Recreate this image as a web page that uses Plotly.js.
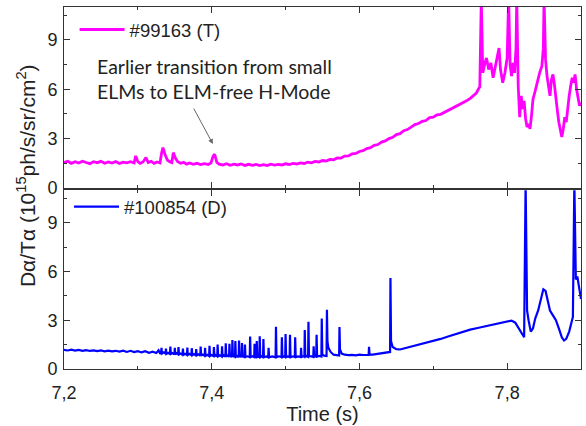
<!DOCTYPE html>
<html>
<head>
<meta charset="utf-8">
<script src="https://cdn.plot.ly/plotly-3.0.1.min.js"></script>
<style>html,body{margin:0;padding:0;background:#fff}#chart{width:586px;height:426px}</style>
</head>
<body>
<div id="chart"></div>
<script>
// Shot #99163 (T) – time (s) and Dα/Tα signal
const timeT = [7.200,7.205,7.210,7.215,7.220,7.225,7.230,7.235,7.240,7.245,7.250,7.255,7.260,7.265,7.270,7.275,7.280,7.285,7.290,7.295,7.297,7.300,7.303,7.307,7.311,7.314,7.318,7.322,7.326,7.330,7.332,7.334,7.337,7.340,7.343,7.346,7.348,7.351,7.354,7.358,7.362,7.366,7.370,7.375,7.380,7.385,7.390,7.395,7.399,7.402,7.404,7.407,7.410,7.415,7.420,7.425,7.430,7.435,7.440,7.445,7.450,7.455,7.460,7.465,7.470,7.475,7.480,7.485,7.490,7.495,7.500,7.505,7.510,7.515,7.520,7.525,7.530,7.535,7.540,7.545,7.550,7.555,7.560,7.565,7.570,7.575,7.580,7.585,7.590,7.595,7.600,7.605,7.610,7.615,7.620,7.625,7.630,7.635,7.640,7.645,7.650,7.655,7.660,7.665,7.670,7.675,7.680,7.685,7.690,7.695,7.700,7.705,7.710,7.715,7.720,7.725,7.730,7.735,7.740,7.745,7.750,7.755,7.758,7.761,7.763,7.765,7.767,7.770,7.772,7.775,7.778,7.781,7.784,7.787,7.789,7.791,7.794,7.797,7.800,7.802,7.804,7.806,7.808,7.810,7.812,7.813,7.815,7.817,7.819,7.821,7.823,7.825,7.827,7.829,7.831,7.833,7.835,7.838,7.841,7.844,7.847,7.849,7.850,7.852,7.854,7.856,7.858,7.860,7.862,7.864,7.866,7.868,7.870,7.872,7.874,7.876,7.878,7.880,7.882,7.884,7.886,7.888,7.890,7.892,7.894,7.896,7.898,7.900];
const signalT = [1.55,1.62,1.50,1.60,1.52,1.63,1.55,1.48,1.60,1.54,1.62,1.50,1.58,1.52,1.61,1.49,1.57,1.53,1.60,1.52,1.95,1.60,1.50,1.58,1.85,1.55,1.62,1.50,1.58,1.52,2.10,2.45,2.00,1.70,1.60,1.55,2.15,1.80,1.60,1.50,1.56,1.45,1.52,1.44,1.50,1.42,1.48,1.43,1.52,1.95,2.05,1.55,1.45,1.40,1.48,1.38,1.45,1.40,1.46,1.37,1.44,1.38,1.43,1.36,1.42,1.37,1.45,1.39,1.44,1.40,1.47,1.43,1.50,1.46,1.53,1.49,1.57,1.53,1.62,1.58,1.67,1.64,1.74,1.72,1.83,1.82,1.94,1.95,2.07,2.10,2.22,2.27,2.40,2.45,2.59,2.64,2.79,2.86,3.00,3.08,3.25,3.30,3.48,3.55,3.70,3.85,3.92,4.05,4.10,4.28,4.30,4.45,4.48,4.60,4.68,4.80,4.92,5.05,5.15,5.30,5.45,5.62,5.75,6.00,6.15,11.5,7.0,7.6,7.9,7.2,7.6,6.7,7.3,8.0,8.5,7.2,6.4,7.0,7.9,11.5,7.5,6.8,7.6,7.0,8.5,11.5,6.2,4.3,5.6,4.8,5.3,4.2,3.7,3.9,3.6,4.4,5.4,5.9,6.5,7.0,7.4,8.5,11.5,7.8,6.8,6.2,5.6,6.6,6.9,6.3,5.3,4.7,4.0,3.5,3.1,3.6,4.3,4.0,5.0,5.6,6.2,6.7,6.4,6.9,6.0,5.5,5.0,5.2];

// Shot #100854 (D)
const timeD = [7.200,7.205,7.210,7.215,7.220,7.225,7.230,7.235,7.240,7.245,7.250,7.255,7.260,7.265,7.270,7.275,7.280,7.285,7.290,7.295,7.300,7.305,7.310,7.315,7.320,7.325,7.328,7.330,
  7.3315,7.332,7.3327,7.335,7.3375,7.338,7.3387,7.341,7.3435,7.344,7.3447,7.347,7.3495,7.350,7.3507,7.3525,7.3545,7.355,7.3557,7.358,
  7.3605,7.361,7.3617,7.364,7.3665,7.367,7.3677,7.370,7.3725,7.373,7.3737,7.376,7.3785,7.379,7.3797,7.382,7.3845,7.385,7.3857,7.388,
  7.3905,7.391,7.3917,7.394,7.3965,7.397,7.3977,7.400,7.4025,7.403,7.4037,7.4055,7.4075,7.408,7.4087,7.411,7.4135,7.414,7.4147,7.4165,
  7.4185,7.419,7.4197,7.4215,7.4235,7.424,7.4247,7.426,7.4275,7.428,7.4287,7.430,7.4315,7.432,7.4327,7.4345,7.4365,7.437,7.4377,7.439,
  7.4405,7.441,7.4417,7.443,7.4445,7.445,7.4457,7.448,7.4515,7.452,7.4527,7.455,7.4575,7.458,7.4587,7.4605,7.461,7.4617,7.463,
  7.4645,7.465,7.4657,7.4675,7.4695,7.470,7.4707,7.474,7.4765,7.477,7.4777,7.482,7.4865,7.487,7.4877,7.491,7.4945,7.495,7.4957,7.4975,
  7.4995,7.500,7.5007,7.503,7.5055,7.506,7.5067,7.510,7.5125,7.513,7.5137,7.517,7.5205,7.521,7.5217,7.5235,7.5255,7.526,7.5267,7.5285,
  7.5305,7.531,7.5317,7.535,7.5375,7.538,7.5387,7.540,7.5415,7.542,7.5427,7.546,7.5485,7.549,7.5497,7.552,7.5555,7.556,7.5567,7.558,
  7.561,7.565,7.569,7.5725,7.573,7.5737,7.576,7.580,7.585,7.590,7.595,7.600,7.605,7.6125,7.613,7.6137,7.618,7.625,7.632,7.638,
  7.6415,7.642,7.6428,7.645,7.650,7.655,7.660,7.670,7.680,7.690,7.700,7.710,7.720,7.730,7.740,7.750,7.760,7.770,7.780,7.790,7.800,
  7.806,7.811,7.816,7.820,7.823,7.825,7.827,7.829,7.832,7.835,7.838,7.842,7.846,7.849,7.852,7.855,7.858,7.862,7.866,7.870,7.874,
  7.877,7.880,7.884,7.887,7.889,7.891,7.893,7.895,7.897,7.900];
const signalD = [1.18,1.14,1.19,1.13,1.17,1.12,1.16,1.11,1.15,1.10,1.14,1.09,1.13,1.08,1.12,1.07,1.13,1.05,1.12,1.04,1.10,1.02,1.09,1.00,1.06,0.98,1.15,0.97,
  0.96,1.30,0.95,1.02,0.94,1.25,0.93,1.00,0.92,1.38,0.92,0.98,0.90,1.30,0.90,0.97,0.89,1.35,0.89,0.95,
  0.87,1.25,0.87,0.94,0.86,1.32,0.86,0.93,0.85,1.28,0.85,0.92,0.84,1.22,0.84,0.90,0.82,1.38,0.82,0.89,
  0.81,1.30,0.81,0.87,0.80,1.42,0.80,0.86,0.79,1.35,0.79,0.85,0.78,1.50,0.78,0.84,0.77,1.40,0.77,0.83,
  0.76,1.58,0.76,0.82,0.76,1.55,0.76,0.80,0.75,1.78,0.75,0.80,0.75,1.72,0.75,0.80,0.74,1.75,0.74,0.79,
  0.74,1.60,0.74,0.78,0.74,1.50,0.74,0.78,0.73,2.00,0.73,0.78,0.73,1.55,0.73,0.74,1.72,0.74,0.77,
  0.73,2.02,0.73,0.78,0.72,1.85,0.72,0.77,0.72,1.30,0.72,0.77,0.72,2.60,0.73,0.78,0.73,1.95,0.73,0.77,
  0.73,2.15,0.73,0.77,0.73,2.10,0.74,0.78,0.74,1.95,0.74,0.78,0.74,1.30,0.74,0.78,0.75,2.40,0.76,0.80,
  0.75,2.90,0.80,0.78,0.75,1.40,0.76,0.79,0.76,2.10,0.77,0.80,0.77,3.10,0.90,0.82,0.80,3.65,1.70,1.30,
  1.05,0.88,0.84,0.83,2.58,1.20,0.95,0.88,0.85,0.87,0.84,0.88,0.86,0.87,1.36,0.90,0.89,0.93,0.97,1.02,
  1.05,5.60,1.70,1.35,1.22,1.20,1.26,1.35,1.48,1.58,1.70,1.85,2.00,2.15,2.30,2.42,2.52,2.62,2.72,2.82,2.92,
  2.98,2.85,2.50,2.20,1.95,11.5,3.6,3.0,2.3,2.5,3.1,3.6,4.3,4.9,4.8,4.2,3.6,3.3,3.0,2.5,1.95,
  1.75,1.85,2.3,2.9,3.2,11.5,5.5,5.7,5.0,4.3];

const nameT = '#99163 (T)';
const nameD = '#100854 (D)';
const xTickVals = [7.2, 7.4, 7.6, 7.8];
const yTickVals = [0, 3, 6, 9];

const FONT = 'Liberation Sans, Arial, sans-serif';
const axisCommon = {
  showline: true, linecolor: '#333', linewidth: 1, mirror: 'allticks',
  ticks: 'inside', ticklen: 6, tickcolor: '#333', showgrid: false, zeroline: false,
  tickfont: {family: FONT, size: 18, color: '#222'}
};

const traces = [
  {x: timeT, y: signalT, xaxis: 'x2', yaxis: 'y2', type: 'scatter', mode: 'lines', name: nameT,
   line: {color: '#ff00ff', width: 2.8}, legend: 'legend'},
  {x: timeD, y: signalD, xaxis: 'x', yaxis: 'y', type: 'scatter', mode: 'lines', name: nameD,
   line: {color: '#0000ff', width: 2.2}, legend: 'legend2'}
];

const layout = {
  width: 586, height: 426,
  margin: {l: 64, r: 5, t: 7, b: 57},
  paper_bgcolor: '#fff', plot_bgcolor: '#fff',
  separators: ',.',
  font: {family: FONT, color: '#222'},
  showlegend: true,
  xaxis: Object.assign({}, axisCommon, {
    range: [7.2, 7.9], anchor: 'y', tickvals: xTickVals, ticklabelstandoff: 7,
    minor: {ticks: 'inside', ticklen: 3, dtick: 0.1, tick0: 7.2, tickcolor: '#333'},
    title: {text: 'Time (s)', font: {size: 20, family: FONT, color: '#222'}, standoff: 1}
  }),
  xaxis2: Object.assign({}, axisCommon, {
    range: [7.2, 7.9], anchor: 'y2', matches: 'x', tickvals: xTickVals, showticklabels: false,
    minor: {ticks: 'inside', ticklen: 3, dtick: 0.1, tick0: 7.2, tickcolor: '#333'}
  }),
  yaxis: Object.assign({}, axisCommon, {
    domain: [0, 0.494], range: [0, 11], tickvals: yTickVals, ticklabelstandoff: 2,
    minor: {ticks: 'inside', ticklen: 3, dtick: 1.5, tick0: 0, tickcolor: '#333'}
  }),
  yaxis2: Object.assign({}, axisCommon, {
    domain: [0.5, 1], range: [0, 11], tickvals: yTickVals, ticklabelstandoff: 2,
    minor: {ticks: 'inside', ticklen: 3, dtick: 1.5, tick0: 0, tickcolor: '#333'}
  }),
  legend: {x: 0.0205, y: 0.989, xanchor: 'left', yanchor: 'top', bgcolor: 'rgba(0,0,0,0)',
    font: {size: 18.5, family: FONT, color: '#222'}, itemwidth: 45},
  legend2: {x: 0.0097, y: 0.4995, xanchor: 'left', yanchor: 'top', bgcolor: 'rgba(0,0,0,0)',
    font: {size: 18.5, family: FONT, color: '#222'}, itemwidth: 45},
  annotations: [
    {xref: 'paper', yref: 'paper', x: 0, xshift: -38, y: 0.533, xanchor: 'center', yanchor: 'middle',
     textangle: -90, showarrow: false,
     text: 'Dα/Tα (10<sup>15</sup>ph/s/sr/cm<sup>2</sup>)',
     font: {size: 21, family: FONT, color: '#222'}},
    {xref: 'x2', yref: 'y2', x: 7.242, y: 6.6, xanchor: 'left', yanchor: 'middle', align: 'left',
     showarrow: false, text: 'Earlier transition from small<br>ELMs to ELM-free H-Mode',
     font: {size: 19.5, family: 'Lato, Open Sans, sans-serif', color: '#222'}},
    {xref: 'x2', yref: 'y2', x: 7.4016, y: 2.67, axref: 'x2', ayref: 'y2', ax: 7.3746, ay: 4.92,
     text: '', showarrow: true, arrowhead: 2, arrowsize: 1, arrowwidth: 1, arrowcolor: '#666'}
  ]
};

Plotly.newPlot('chart', traces, layout, {displayModeBar: false, staticPlot: true});
</script>
</body>
</html>
